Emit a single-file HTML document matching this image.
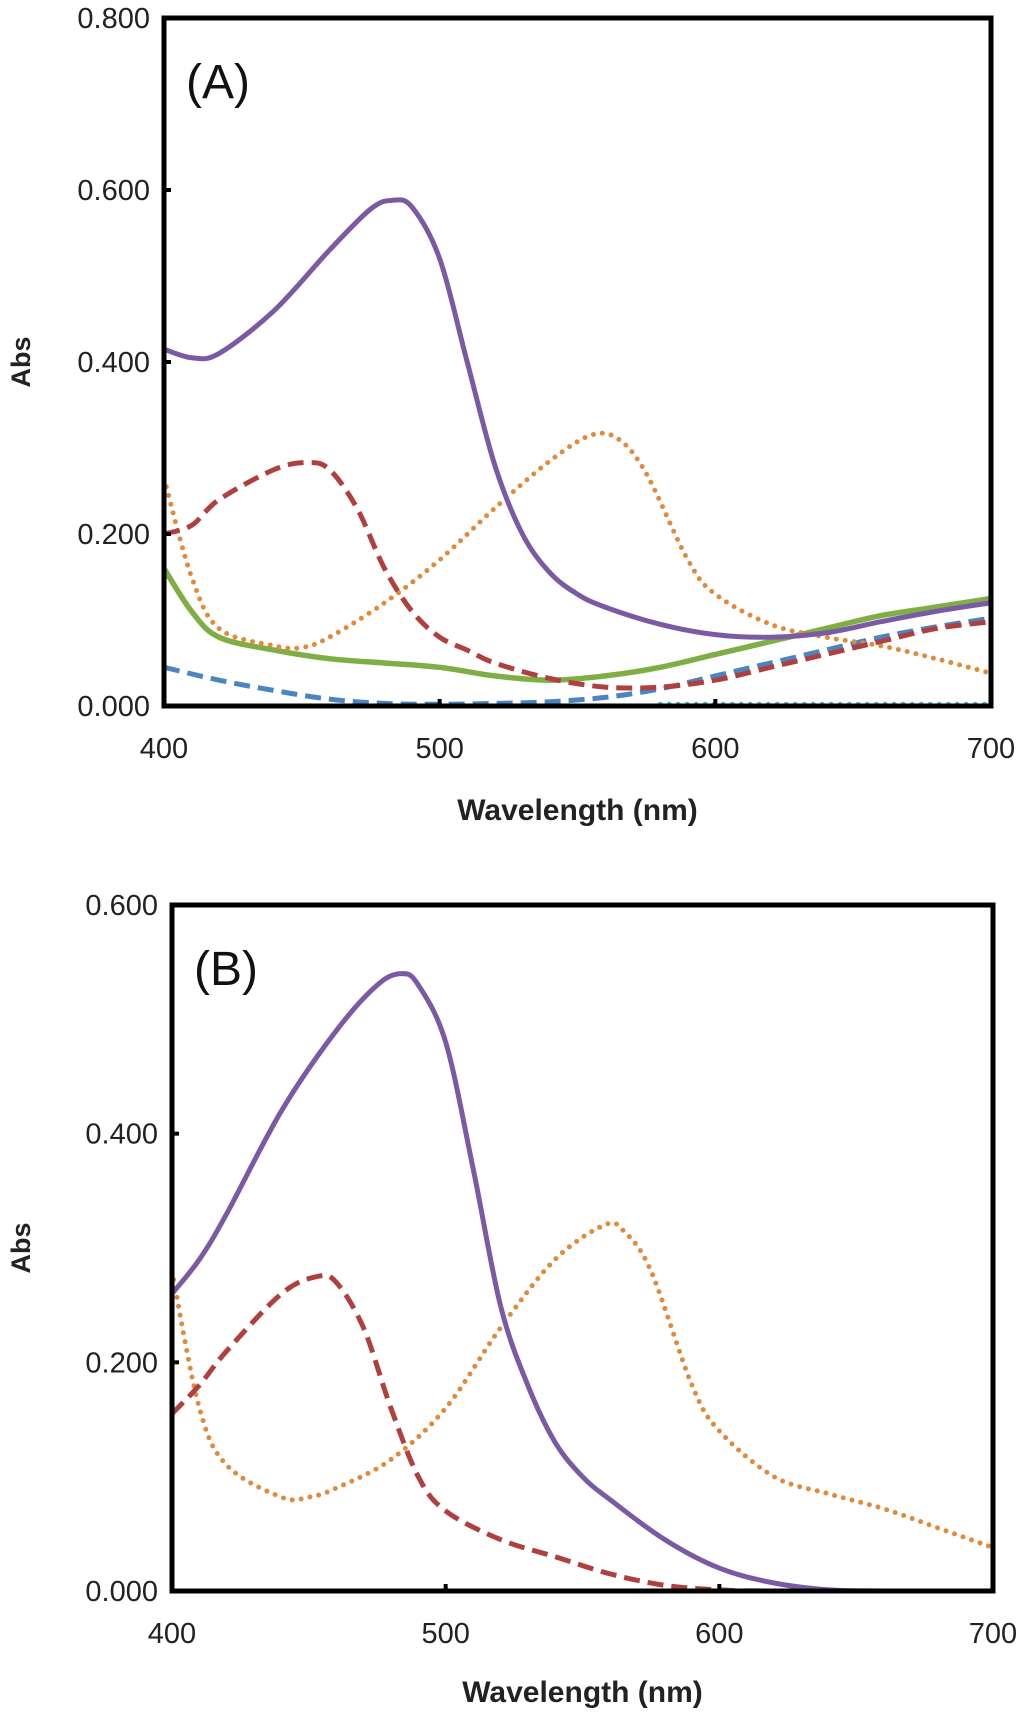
<!DOCTYPE html>
<html><head><meta charset="utf-8"><style>
html,body{margin:0;padding:0;background:#fff;}
svg{display:block;font-family:"Liberation Sans",sans-serif;}
</style></head><body>
<svg id="fig" width="1024" height="1713" viewBox="0 0 1024 1713" xmlns="http://www.w3.org/2000/svg"></svg>
<script>
const xTicks=[400,500,600,700];
const yTicksA=[0,0.2,0.4,0.6,0.8];
const yTicksB=[0,0.2,0.4,0.6];
const wlA_purple=[400,410,420,440,460,475,483,490,500,510,520,530,540,550,560,580,600,620,640,660,680,700];
const absA_purple=[0.415,0.405,0.41,0.46,0.53,0.578,0.588,0.58,0.52,0.40,0.28,0.20,0.155,0.13,0.115,0.095,0.083,0.08,0.085,0.098,0.11,0.12];
const wlA_red=[400,410,420,440,452,460,470,480,490,500,510,520,540,560,580,600,620,640,660,680,700];
const absA_red=[0.20,0.21,0.24,0.275,0.283,0.275,0.23,0.16,0.11,0.08,0.065,0.05,0.032,0.022,0.022,0.03,0.045,0.06,0.075,0.09,0.098];
const wlA_orange=[400,410,420,440,450,460,480,500,520,540,555,565,575,590,600,620,640,660,680,700];
const absA_orange=[0.265,0.15,0.09,0.07,0.068,0.08,0.12,0.17,0.23,0.285,0.315,0.31,0.27,0.17,0.13,0.095,0.08,0.07,0.055,0.038];
const wlA_green=[400,410,420,440,460,480,500,520,540,560,580,600,620,640,660,680,700];
const absA_green=[0.16,0.11,0.08,0.065,0.055,0.05,0.045,0.035,0.03,0.035,0.045,0.06,0.075,0.09,0.105,0.115,0.125];
const wlA_blue=[400,420,440,460,480,500,520,540,560,580,600,620,640,660,680,700];
const absA_blue=[0.045,0.03,0.018,0.008,0.003,0.002,0.003,0.005,0.01,0.02,0.035,0.05,0.065,0.08,0.092,0.102];
const wlA_cyan=[580,620,660,700];
const absA_cyan=[0.002,0.002,0.002,0.002];
const wlB_purple=[400,410,420,440,460,475,484,490,500,510,520,530,540,550,560,580,600,620,640,660,700];
const absB_purple=[0.26,0.29,0.33,0.42,0.49,0.53,0.54,0.53,0.48,0.37,0.25,0.18,0.13,0.10,0.08,0.045,0.02,0.007,0.001,0,0];
const wlB_red=[400,410,420,440,453,460,470,480,490,500,520,540,560,580,600,620,700];
const absB_red=[0.155,0.18,0.21,0.26,0.275,0.27,0.23,0.16,0.10,0.07,0.045,0.03,0.015,0.005,0.001,0,0];
const wlB_orange=[400,410,420,440,450,460,480,500,520,540,558,565,575,590,600,620,640,660,680,700];
const absB_orange=[0.28,0.16,0.11,0.082,0.082,0.09,0.115,0.16,0.23,0.29,0.32,0.315,0.28,0.18,0.14,0.10,0.085,0.072,0.055,0.038];

const NS="http://www.w3.org/2000/svg";
const svg=document.getElementById('fig');
function mk(tag,attrs,parent){const e=document.createElementNS(NS,tag);for(const k in attrs)e.setAttribute(k,attrs[k]);(parent||svg).appendChild(e);return e;}
function smooth(pts){let d="M"+pts[0][0]+","+pts[0][1];for(let i=0;i<pts.length-1;i++){const p0=pts[i-1]||pts[i],p1=pts[i],p2=pts[i+1],p3=pts[i+2]||p2;
const c1x=p1[0]+(p2[0]-p0[0])/6,c1y=p1[1]+(p2[1]-p0[1])/6,c2x=p2[0]-(p3[0]-p1[0])/6,c2y=p2[1]-(p3[1]-p1[1])/6;
d+=" C"+c1x.toFixed(1)+","+c1y.toFixed(1)+" "+c2x.toFixed(1)+","+c2y.toFixed(1)+" "+p2[0].toFixed(1)+","+p2[1].toFixed(1);}return d;}

function chart(cfg){
  const g=mk('g',{});
  
  
  const X=v=>cfg.l+(v-400)/300*(cfg.r-cfg.l);
  const Y=v=>cfg.b-(v/cfg.ymax)*(cfg.b-cfg.t);
  const defs=mk('clipPath',{id:cfg.name+'-clip'},g);
  mk('rect',{x:cfg.l,y:cfg.t,width:cfg.r-cfg.l,height:cfg.b-cfg.t},defs);
  const sg=mk('g',{'clip-path':'url(#'+cfg.name+'-clip)'},g);
  cfg.series.forEach(s=>{
    const p=mk('path',{d:smooth(s.x.map((w,i)=>[X(w),Y(s.y[i])])),fill:'none',stroke:s.c,'stroke-width':s.w||5,'stroke-linecap':s.dot?'round':'butt','stroke-dasharray':s.dot?'0 9':(s.dash?'16 8':'none')},sg);
    
    
  });
  const fr=mk('rect',{x:cfg.l,y:cfg.t,width:cfg.r-cfg.l,height:cfg.b-cfg.t,fill:'none',stroke:'#000','stroke-width':5},g);
  
  
  cfg.yt.forEach(v=>{
    mk('line',{x1:cfg.l,x2:cfg.l+7,y1:Y(v),y2:Y(v),stroke:'#000','stroke-width':4},g);
    const t=mk('text',{x:cfg.l-14,y:Y(v)+10,'text-anchor':'end','font-size':29,fill:'#222'},g);
    t.textContent=v.toFixed(3);
    
    
  });
  xTicks.forEach(v=>{
    mk('line',{x1:X(v),x2:X(v),y1:cfg.b,y2:cfg.b-7,stroke:'#000','stroke-width':4},g);
    const t=mk('text',{x:X(v),y:cfg.b+52,'text-anchor':'middle','font-size':29,fill:'#222'},g);
    t.textContent=v;
    
    
  });
  const xt=mk('text',{x:(cfg.l+cfg.r)/2,y:cfg.xty,'text-anchor':'middle','font-size':30,'font-weight':'bold',fill:'#222'},g);
  xt.textContent=cfg.xtitle;
  
  
  const cy=(cfg.t+cfg.b)/2;
  const yt=mk('text',{x:0,y:0,transform:'translate(30,'+cy+') rotate(-90)','text-anchor':'middle','font-size':27,'font-weight':'bold',fill:'#222'},g);
  yt.textContent='Abs';
  
  
  const pl=mk('text',{x:cfg.l+22,y:cfg.t+80,'font-size':48,fill:'#111'},g);
  pl.textContent=cfg.label;
  
  
}
chart({name:'chart-a',l:164,r:991,t:18,b:706,ymax:0.8,yt:yTicksA,xty:820,xtitle:'Wavelength  (nm)',label:'(A)',
 series:[
  {n:'series-cyan-dotted',x:wlA_cyan,y:absA_cyan,c:'#4bb3c8',dot:true},
  {n:'series-blue-dashed',x:wlA_blue,y:absA_blue,c:'#4a85c0',dash:true},
  {n:'series-green',x:wlA_green,y:absA_green,c:'#7fae45',w:5.5},
  {n:'series-orange-dotted',x:wlA_orange,y:absA_orange,c:'#e08a3c',dot:true},
  {n:'series-red-dashed',x:wlA_red,y:absA_red,c:'#b0403f',dash:true},
  {n:'series-purple',x:wlA_purple,y:absA_purple,c:'#7a5aa3'}]});
chart({name:'chart-b',l:172,r:993,t:905,b:1591,ymax:0.6,yt:yTicksB,xty:1702,xtitle:'Wavelength (nm)',label:'(B)',
 series:[
  {n:'series-orange-dotted',x:wlB_orange,y:absB_orange,c:'#e08a3c',dot:true},
  {n:'series-red-dashed',x:wlB_red,y:absB_red,c:'#b0403f',dash:true},
  {n:'series-purple',x:wlB_purple,y:absB_purple,c:'#7a5aa3'}]});
</script>
</body></html>
